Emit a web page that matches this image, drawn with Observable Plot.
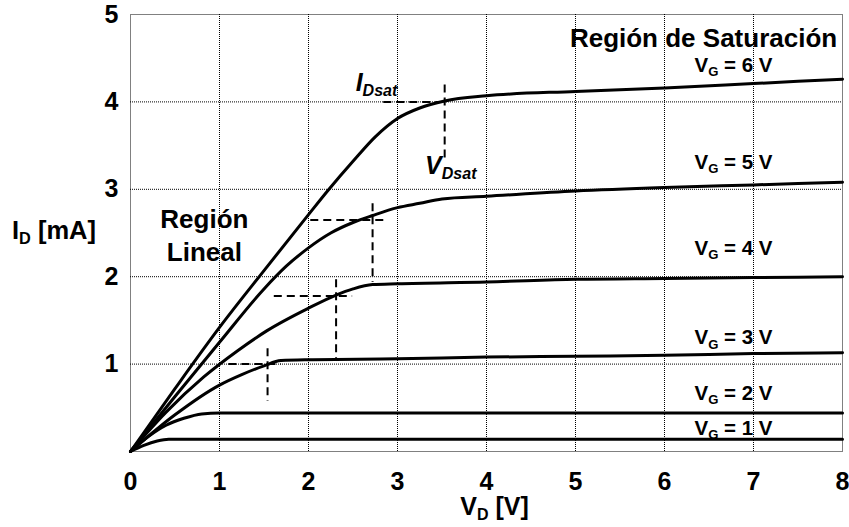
<!DOCTYPE html>
<html>
<head>
<meta charset="utf-8">
<script src="https://cdn.jsdelivr.net/npm/d3@7"></script>
<script src="https://cdn.jsdelivr.net/npm/@observablehq/plot@0.6"></script>
<style>
  html, body { margin: 0; padding: 0; background: #fff; }
  svg { font-family: "Liberation Sans", Arial, sans-serif; }
</style>
</head>
<body>
<div id="chart"></div>
<script>
// ---- Data (V_D in volts, I_D in mA) ----
const vd1 = [0, 0.15, 0.3, 0.43, 1, 2, 3, 4, 5, 6, 7, 8];
const id1 = [0, 0.07, 0.12, 0.14, 0.14, 0.14, 0.14, 0.14, 0.14, 0.14, 0.14, 0.14];

const vd2 = [0, 0.2, 0.4, 0.6, 0.8, 1, 2, 3, 4, 5, 6, 7, 8];
const id2 = [0, 0.17, 0.3, 0.38, 0.43, 0.44, 0.44, 0.44, 0.44, 0.44, 0.44, 0.44, 0.44];

const vd3 = [0, 0.5, 1, 1.25, 1.5, 1.69, 2, 3, 4, 5, 6, 7, 8];
const id3 = [0, 0.42, 0.76, 0.88, 0.98, 1.04, 1.05, 1.06, 1.08, 1.09, 1.1, 1.12, 1.13];

const vd4 = [0, 0.4, 0.82, 1.2, 1.53, 2.0, 2.31, 2.5, 2.72, 3, 4, 5, 6, 7, 8];
const id4 = [0, 0.45, 0.85, 1.15, 1.38, 1.64, 1.79, 1.86, 1.91, 1.92, 1.94, 1.97, 1.98, 1.99, 2.0];

const vd5 = [0, 0.5, 1, 1.5, 1.75, 2, 2.25, 2.5, 2.72, 3, 3.25, 3.5, 4, 5, 6, 7, 8];
const id5 = [0, 0.63, 1.25, 1.86, 2.12, 2.33, 2.5, 2.62, 2.7, 2.79, 2.84, 2.89, 2.92, 2.98, 3.02, 3.05, 3.08];

const vd6 = [0, 0.5, 1, 1.5, 2, 2.23, 2.5, 2.75, 3, 3.25, 3.53, 4, 5, 6, 7, 8];
const id6 = [0, 0.72, 1.42, 2.07, 2.71, 3.0, 3.32, 3.6, 3.81, 3.93, 4.01, 4.07, 4.12, 4.16, 4.21, 4.26];

// Saturation-point dashed guides (I_Dsat horizontals, V_Dsat verticals)
const satHy  = [4.0, 2.65, 1.78, 1.0];
const satHx1 = [2.84, 2.02, 1.61, 1.10];
const satHx2 = [3.53, 2.89, 2.49, 1.69];
const satVx  = [3.53, 2.72, 2.31, 1.54];
const satVy1 = [4.2, 2.84, 1.97, 1.18];
const satVy2 = [3.35, 1.94, 1.06, 0.58];

// Curve labels
const vgLabels = ["V_{G} = 1 V", "V_{G} = 2 V", "V_{G} = 3 V", "V_{G} = 4 V", "V_{G} = 5 V", "V_{G} = 6 V"];
const vgLabelX = 6.775;
const vgLabelY = [0.26, 0.66, 1.30, 2.32, 3.31, 4.42];

// Ticks
const xTicks = [0, 1, 2, 3, 4, 5, 6, 7, 8];
const yTicks = [1, 2, 3, 4, 5];

// ---- Build tables ----
const seriesX = [vd1, vd2, vd3, vd4, vd5, vd6];
const seriesY = [id1, id2, id3, id4, id5, id6];
const curves = seriesX.flatMap((xs, k) => xs.map((x, i) => ({vg: k + 1, x, y: seriesY[k][i]})));
const hDash = satHy.map((y, i) => ({x1: satHx1[i], x2: satHx2[i], y}));
const vDash = satVx.map((x, i) => ({x, y1: satVy1[i], y2: satVy2[i]}));
const vgText = vgLabels.map((t, i) => ({t, x: vgLabelX, y: vgLabelY[i]}));

const font = "Liberation Sans, Arial, sans-serif";
const gridStyle = {stroke: "#000", strokeOpacity: 1, strokeWidth: 1, strokeDasharray: "1,1"};

const chart = Plot.plot({
  width: 849,
  height: 527,
  marginTop: 14,
  marginBottom: 76,
  marginLeft: 130,
  marginRight: 7,
  style: {fontFamily: font, color: "#000", background: "#fff", overflow: "visible"},
  x: {domain: [0, 8]},
  y: {domain: [0, 5]},
  marks: [
    Plot.gridX(xTicks.slice(1, -1), gridStyle),
    Plot.gridY(yTicks.slice(0, -1), gridStyle),
    Plot.frame(gridStyle),
    Plot.axisX(xTicks, {tickSize: 0, tickPadding: 21, fontSize: 25, fontWeight: "bold", label: null, tickFormat: d => String(d)}),
    Plot.axisY(yTicks, {tickSize: 0, tickPadding: 12, fontSize: 25, fontWeight: "bold", label: null, tickFormat: d => String(d)}),
    Plot.link(hDash, {x1: "x1", x2: "x2", y1: "y", y2: "y", stroke: "#000", strokeWidth: 2, strokeDasharray: "8,5"}),
    Plot.link(vDash, {x1: "x", x2: "x", y1: "y1", y2: "y2", stroke: "#000", strokeWidth: 2, strokeDasharray: "8,5"}),
    Plot.line(curves, {x: "x", y: "y", z: "vg", stroke: "#000", strokeWidth: 3, curve: "monotone-x"}),
    Plot.text(vgText, {x: "x", y: "y", text: "t", fontSize: 20.5, fontWeight: "bold", textAnchor: "middle", fill: "#000"}),
    Plot.text(["Región de Saturación"], {x: 7.94, y: 4.725, text: d => d, fontSize: 26, fontWeight: "bold", textAnchor: "end", fill: "#000"}),
    Plot.text(["Región\nLineal"], {x: 0.83, y: 2.49, text: d => d, fontSize: 26, fontWeight: "bold", textAnchor: "middle", lineHeight: 1.27, fill: "#000"}),
    Plot.text(["I_{Dsat}"], {x: 2.53, y: 4.13, text: d => d, fontSize: 25, fontWeight: "bold", fontStyle: "italic", textAnchor: "start", lineAnchor: "bottom", fill: "#000"}),
    Plot.text(["V_{Dsat}"], {x: 3.31, y: 3.18, text: d => d, fontSize: 25, fontWeight: "bold", fontStyle: "italic", textAnchor: "start", lineAnchor: "bottom", fill: "#000"}),
    Plot.text(["I_{D} [mA]"], {x: -0.86, y: 2.53, text: d => d, fontSize: 25.5, fontWeight: "bold", textAnchor: "middle", fill: "#000"}),
    Plot.text(["V_{D} [V]"], {x: 4.09, y: -0.64, text: d => d, fontSize: 25, fontWeight: "bold", textAnchor: "middle", fill: "#000"})
  ]
});

document.getElementById("chart").appendChild(chart);

// Turn "_{...}" markup into real subscript tspans
const NS = "http://www.w3.org/2000/svg";
chart.querySelectorAll("text").forEach(t => {
  const s = t.textContent;
  if (!s.includes("_{") || t.querySelector("tspan")) return;
  const fs = parseFloat(getComputedStyle(t).fontSize) || 16;
  const shift = fs * 0.2;
  t.textContent = "";
  let down = false;
  for (const p of s.split(/(_\{[^}]*\})/)) {
    if (!p) continue;
    const ts = document.createElementNS(NS, "tspan");
    if (p.startsWith("_{")) {
      ts.textContent = p.slice(2, -1);
      ts.setAttribute("font-size", (fs * 0.64) + "px");
      if (!down) { ts.setAttribute("dy", shift + "px"); down = true; }
    } else {
      ts.textContent = p;
      if (down) { ts.setAttribute("dy", (-shift) + "px"); down = false; }
    }
    t.appendChild(ts);
  }
});
</script>
</body>
</html>
